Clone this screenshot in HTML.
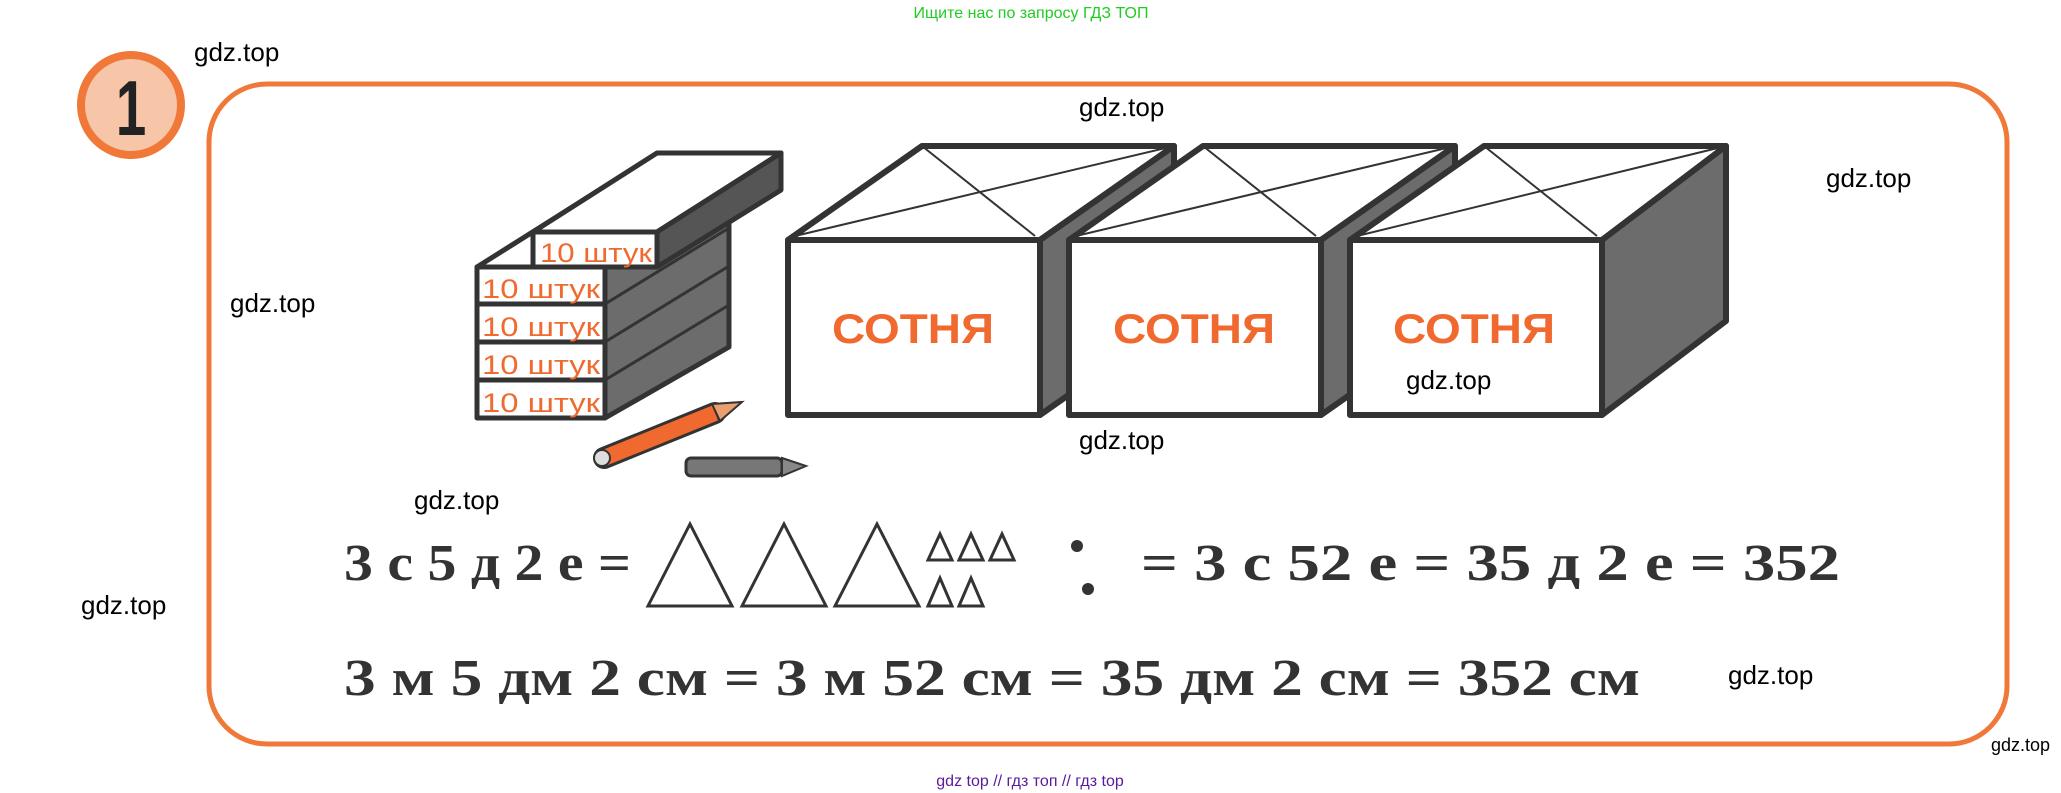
<!DOCTYPE html>
<html><head><meta charset="utf-8"><style>
html,body{margin:0;padding:0;background:#fff;}
svg{display:block}
</style></head><body>
<svg width="2061" height="793" viewBox="0 0 2061 793" xmlns="http://www.w3.org/2000/svg">
<text x="1031" y="18" text-anchor="middle" font-family="Liberation Sans, sans-serif" font-size="16" fill="#22cc22">Ищите нас по запросу ГДЗ ТОП</text>
<!-- frame -->
<rect x="209" y="84" width="1798" height="660" rx="58" fill="none" stroke="#f07838" stroke-width="5"/>
<!-- circle 1 -->
<circle cx="131" cy="105" r="50" fill="#f7c6a8" stroke="#f07838" stroke-width="8"/>
<text x="131" y="135" text-anchor="middle" font-family="Liberation Sans, sans-serif" font-weight="bold" font-size="78" fill="#222" transform="translate(131 0) scale(0.7 1) translate(-131 0)">1</text>
<g stroke="#333" stroke-width="5" stroke-linejoin="round">
<!-- lower stack -->
<polygon points="477,267 601,189 729,189 605,267" fill="#fff"/>
<polygon points="605,267 729,189 729,347 605,418" fill="#6c6c6c"/>
<rect x="477" y="267" width="128" height="151" fill="#fff"/>
<line x1="477" y1="304" x2="605" y2="304"/>
<line x1="477" y1="342" x2="605" y2="342"/>
<line x1="477" y1="380" x2="605" y2="380"/>
<line x1="605" y1="304" x2="729" y2="228" stroke-width="3"/>
<line x1="605" y1="342" x2="729" y2="266" stroke-width="3"/>
<line x1="605" y1="380" x2="729" y2="305" stroke-width="3"/>
<!-- top slab -->
<polygon points="533,232 657,153 781,153 657,232" fill="#fff"/>
<polygon points="657,232 781,153 781,190 657,267" fill="#555"/>
<rect x="533" y="232" width="124" height="35" fill="#fff"/>
</g>
<g font-family="Liberation Sans, sans-serif" font-size="27" fill="#f06a30">
<text x="540" y="262" textLength="112" lengthAdjust="spacingAndGlyphs">10 штук</text>
<text x="482" y="298" textLength="118" lengthAdjust="spacingAndGlyphs">10 штук</text>
<text x="482" y="336" textLength="118" lengthAdjust="spacingAndGlyphs">10 штук</text>
<text x="482" y="374" textLength="118" lengthAdjust="spacingAndGlyphs">10 штук</text>
<text x="482" y="412" textLength="118" lengthAdjust="spacingAndGlyphs">10 штук</text>
</g>
<!-- pencils -->
<g>
<line x1="604" y1="458" x2="715" y2="413" stroke="#333" stroke-width="22" stroke-linecap="round"/>
<line x1="604" y1="458" x2="715" y2="413" stroke="#f06a30" stroke-width="16"/>
<polygon points="712,404 720,421 742,402" fill="#e8a070" stroke="#333" stroke-width="2"/>
<circle cx="602" cy="458" r="8" fill="#ddd" stroke="#333" stroke-width="2"/>
<rect x="686" y="458" width="96" height="18" rx="5" fill="#777" stroke="#333" stroke-width="3"/>
<polygon points="782,458 806,466 782,476" fill="#888" stroke="#333" stroke-width="2"/>
</g>
<!-- cubes -->
<g stroke="#333" stroke-width="6" stroke-linejoin="round">
<polygon points="788,240 922,146 1174,146 1040,240" fill="#fff"/>
<polygon points="1040,240 1174,146 1174,321 1040,415" fill="#6c6c6c"/>
<rect x="788" y="240" width="252" height="175" fill="#fff"/>
<line x1="795" y1="236" x2="1174" y2="146" stroke-width="2"/>
<line x1="922" y1="146" x2="1035" y2="236" stroke-width="2"/>
<polygon points="1069,240 1203,146 1455,146 1321,240" fill="#fff"/>
<polygon points="1321,240 1455,146 1455,321 1321,415" fill="#6c6c6c"/>
<rect x="1069" y="240" width="252" height="175" fill="#fff"/>
<line x1="1076" y1="236" x2="1455" y2="146" stroke-width="2"/>
<line x1="1203" y1="146" x2="1316" y2="236" stroke-width="2"/>
<polygon points="1350,240 1484,146 1726,146 1602,240" fill="#fff"/>
<polygon points="1602,240 1726,146 1726,321 1602,415" fill="#6c6c6c"/>
<rect x="1350" y="240" width="252" height="175" fill="#fff"/>
<line x1="1357" y1="236" x2="1726" y2="146" stroke-width="2"/>
<line x1="1484" y1="146" x2="1597" y2="236" stroke-width="2"/>
</g>
<g font-family="Liberation Sans, sans-serif" font-weight="bold" font-size="42" fill="#f06a30">
<text x="832" y="343" textLength="162" lengthAdjust="spacingAndGlyphs">СОТНЯ</text>
<text x="1113" y="343" textLength="162" lengthAdjust="spacingAndGlyphs">СОТНЯ</text>
<text x="1393" y="343" textLength="162" lengthAdjust="spacingAndGlyphs">СОТНЯ</text>
</g>
<!-- equations -->
<g font-family="Liberation Serif, serif" font-weight="bold" font-size="52" fill="#333">
<text x="344" y="580" textLength="287" lengthAdjust="spacingAndGlyphs">3 с 5 д 2 е =</text>
<text x="1141" y="580" textLength="699" lengthAdjust="spacingAndGlyphs">= 3 с 52 е = 35 д 2 е = 352</text>
<text x="344" y="695" textLength="1296" lengthAdjust="spacingAndGlyphs">3 м 5 дм 2 см = 3 м 52 см = 35 дм 2 см = 352 см</text>
</g>
<g fill="none" stroke="#333" stroke-width="3" stroke-linejoin="miter">
<polygon points="648,606 690,524 732,606"/>
<polygon points="742,606 784,524 826,606"/>
<polygon points="835,606 877,524 919,606"/>
<polygon points="928,560 940,534 952,560"/>
<polygon points="959,560 971,534 983,560"/>
<polygon points="990,560 1002,534 1014,560"/>
<polygon points="928,606 940,578 952,606"/>
<polygon points="959,606 971,578 983,606"/>
</g>
<circle cx="1077" cy="546" r="6" fill="#333"/>
<circle cx="1088" cy="589" r="6" fill="#333"/>
<!-- watermarks -->
<g font-family="Liberation Sans, sans-serif" font-size="26" fill="#000">
<text x="194" y="61">gdz.top</text>
<text x="230" y="312">gdz.top</text>
<text x="1079" y="116">gdz.top</text>
<text x="1826" y="187">gdz.top</text>
<text x="1406" y="389">gdz.top</text>
<text x="1079" y="449">gdz.top</text>
<text x="414" y="509">gdz.top</text>
<text x="81" y="614">gdz.top</text>
<text x="1728" y="684">gdz.top</text>
<text x="1991" y="751" font-size="18">gdz.top</text>
</g>
<text x="1030" y="786" text-anchor="middle" font-family="Liberation Sans, sans-serif" font-size="16" fill="#5a1a9a">gdz top  //  гдз топ  //  гдз top</text>
</svg>
</body></html>
